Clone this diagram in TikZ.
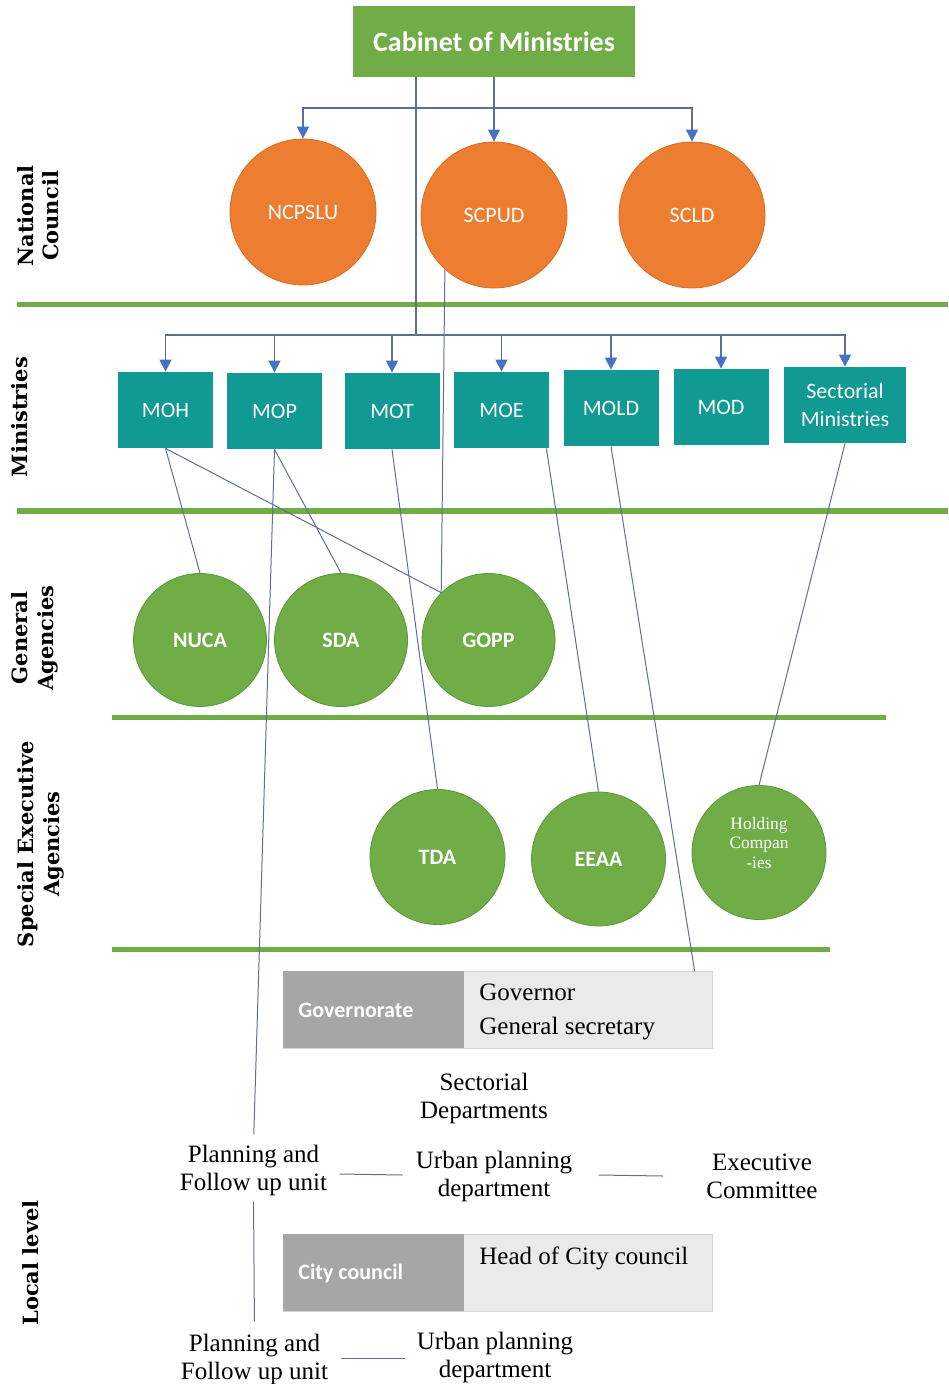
\documentclass[tikz,border=0pt]{standalone}
\usepackage{fontspec}
\setmainfont{Liberation Serif}
\newfontfamily\calfont{Carlito}
\newfontfamily\sidefont{DejaVu Serif}
\usetikzlibrary{arrows.meta,calc}
\definecolor{cgreen}{RGB}{112,173,71}
\definecolor{cgreendk}{RGB}{92,150,58}
\definecolor{corange}{RGB}{237,125,49}
\definecolor{corangedk}{RGB}{214,108,40}
\definecolor{cteal}{RGB}{17,153,148}
\definecolor{cblue}{RGB}{68,114,196}
\definecolor{cline}{RGB}{95,110,150}
\definecolor{cgraydk}{RGB}{166,166,166}
\definecolor{cgraylt}{RGB}{234,234,234}
\begin{document}
\begin{tikzpicture}[x=0.5pt,y=-0.5pt,
  sep/.style={cgreen,line width=2.5pt},
  orangecirc/.style={circle,fill=corange,draw=corangedk,line width=0.4pt,minimum size=73pt,inner sep=0pt,text=white,font=\calfont\fontsize{11}{13}\selectfont},
  greencirc/.style={circle,fill=cgreen,draw=cgreendk,line width=0.4pt,minimum size=66.5pt,inner sep=0pt,text=white,font=\calfont\bfseries\fontsize{11}{13}\selectfont},
  minbox/.style={rectangle,fill=cteal,minimum width=47.5pt,minimum height=38pt,inner sep=0pt,text=white,align=center,font=\calfont\fontsize{11}{14}\selectfont},
  conn/.style={cline,line width=0.5pt},
  arr/.style={cline,line width=0.7pt,-{Triangle[width=6pt,length=6pt,color=cblue]}},
  side/.style={rotate=90,align=center,inner sep=0pt,font=\sidefont\bfseries\fontsize{10.5}{12.8}\selectfont},
  loc/.style={align=center,inner sep=0pt,font=\fontsize{12.5}{14}\selectfont},
  boxtxt/.style={anchor=base west,inner sep=0pt,font=\fontsize{12.5}{14}\selectfont},
  darktxt/.style={anchor=base west,inner sep=0pt,text=white,font=\calfont\bfseries\fontsize{11}{13}\selectfont},
  lightpart/.style={rectangle,fill=cgraylt,draw=cgraylt!80!gray,line width=0.3pt,anchor=north west,minimum width=214.5pt,minimum height=38.5pt,inner sep=0pt},
  darkpart/.style={rectangle,fill=cgraydk,anchor=north west,minimum width=90.5pt,minimum height=38.5pt,inner sep=0pt}
]
\useasboundingbox (0,0) rectangle (948,1384);

% separators
\draw[sep] (17,305) -- (948,305);
\draw[sep] (17,511) -- (948,511);
\draw[sep] (112,717) -- (886,717);
\draw[sep] (112,949) -- (830,949);

% side labels
\node[side] (lnat) at (38,216) {National\\Council};
\node[side] (lmin) at (20,417) {Ministries};
\node[side] (lgen) at (35,638) {General\\Agencies};
\node[side] (lspe) at (41,844) {Special Executive\\Agencies};
\node[side] (lloc) at (31,1263) {Local level};

% cabinet
\node[rectangle,fill=cgreen,minimum width=141pt,minimum height=35.5pt,inner sep=0pt,text=white,font=\calfont\bfseries\fontsize{14}{16}\selectfont] (cab) at (494,41.5) {Cabinet of Ministries};

% national council
\node[orangecirc] (ncpslu) at (303,212) {NCPSLU};
\node[orangecirc] (scpud) at (494,215) {SCPUD};
\node[orangecirc] (scld) at (692,215) {SCLD};

% ministries
\node[minbox] (moh) at (165.5,410) {MOH};
\node[minbox] (mop) at (274.5,411) {MOP};
\node[minbox] (mot) at (392,411) {MOT};
\node[minbox] (moe) at (501.5,410) {MOE};
\node[minbox] (mold) at (611,408) {MOLD};
\node[minbox] (mod) at (721,407) {MOD};
\node[minbox,minimum width=61pt] (sect) at (845,405) {Sectorial\\Ministries};

% general agencies
\node[greencirc] (nuca) at (200,640) {NUCA};
\node[greencirc] (sda) at (341,640) {SDA};
\node[greencirc] (gopp) at (488.5,640) {GOPP};

% special executive agencies
\node[greencirc,minimum size=67.5pt] (tda) at (437.5,857) {TDA};
\node[greencirc,minimum size=67pt] (eeaa) at (598.5,859) {EEAA};
\node[greencirc,minimum size=67pt] (hold) at (759,852.5) {};
\node[align=center,inner sep=0pt,text=white,font=\fontsize{8.7}{9.8}\selectfont] (holdt) at (759,843) {Holding\\Compan\\-ies};

% governorate box
\node[lightpart] (govbox) at (283,971) {};
\node[darkpart] (govdk) at (283,971) {};
\node[darktxt] (govt) at (298,1017) {Governorate};
\node[boxtxt] (govn) at (479,1000) {Governor};
\node[boxtxt] (gens) at (479,1034) {General secretary};

% local texts
\node[loc] (secdep) at (484,1098) {Sectorial\\Departments};
\node[loc] (plan1) at (253.5,1170) {Planning and\\Follow up unit};
\node[loc] (urb1) at (494,1176) {Urban planning\\department};
\node[loc] (exec) at (762,1176) {Executive\\Committee};

% city council box
\node[lightpart] (citybox) at (283,1234) {};
\node[darkpart] (citydk) at (283,1234) {};
\node[darktxt] (cityt) at (298,1279) {City council};
\node[boxtxt] (headc) at (479,1264) {Head of City council};

\node[loc] (plan2) at (254.5,1359) {Planning and\\Follow up unit};
\node[loc] (urb2) at (495,1357) {Urban planning\\department};

% cabinet connectors
\coordinate (j1) at (494,108);
\coordinate (j2) at (416,335);
\draw[arr] (cab.south) -- (scpud.north);
\draw[arr] (j1) -| (ncpslu.north);
\draw[arr] (j1) -| (scld.north);
\draw[cline,line width=0.7pt] (cab.south -| j2) -- (j2);
\foreach \m in {moh,mop,mot,moe,mold,mod,sect} \draw[arr] (j2) -| (\m.north);

% other connectors
\draw[conn] (scpud.228) -- (gopp.135);
\draw[conn] (moh.south) -- (nuca.north);
\draw[conn] (moh.south) -- (gopp.135);
\draw[conn] (mop.south) -- (sda.north);
\draw[conn,shorten >=5pt] (mop.south) -- (plan1.north);
\draw[conn] (mot.south) -- (tda.north);
\draw[conn] ([xshift=-1.5pt]moe.south east) -- (eeaa.north);
\draw[conn] (mold.south) -- ([xshift=-9pt]govbox.north east);
\draw[conn] (sect.south) -- (hold.north);

\draw[conn] ([xshift=6pt,yshift=-2pt]plan1.east) -- ([xshift=-6.5pt,yshift=0.5pt]urb1.west);
\draw[conn] ([xshift=13pt,yshift=0.5pt]urb1.east) -- ([xshift=-21.5pt,yshift=0pt]exec.west);
\draw[conn,shorten <=3pt,shorten >=6pt] (plan1.south) -- (plan2.north);
\draw[conn] ([xshift=6pt,yshift=0.5pt]plan2.east) -- ([xshift=-6pt,yshift=-0.5pt]urb2.west);
\end{tikzpicture}
\end{document}
